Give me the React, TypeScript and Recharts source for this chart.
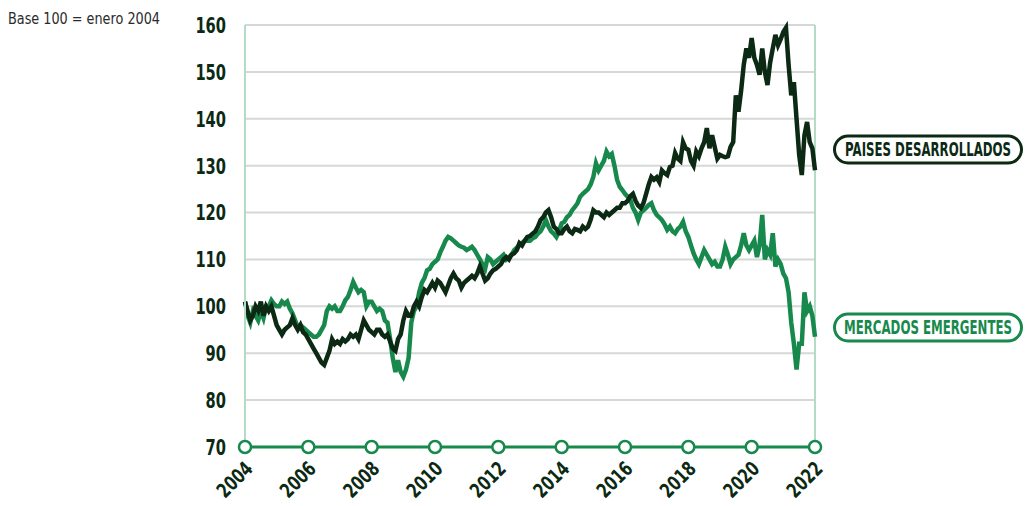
import { LineChart, Line, XAxis, YAxis, CartesianGrid, ReferenceLine } from "recharts";

// índices mensuales, base 100 = enero 2004 (ene 2004 .. ene 2022)
const anioInicio = 2004;

const desarrollados = [
  101, 99, 97, 98, 100, 99, 101, 98, 100, 99, 100, 98, // 2004
  96, 95, 94, 95, 95.5, 96, 97.5, 96, 95, 96, 94.5, 94, // 2005
  93, 92, 91, 90, 89, 88, 87.5, 89, 90.5, 93, 92, 92.5, // 2006
  92, 93, 92.5, 93, 94, 93.5, 94, 93, 95, 97, 96, 95, // 2007
  94.5, 94, 95, 95, 94, 93.5, 94, 92.5, 91, 90.5, 93, 94, // 2008
  97, 99, 98, 98, 100, 101, 100, 102, 103.5, 103, 104, 105, // 2009
  104, 105.5, 105, 104, 103, 104.5, 106, 107, 106, 105.5, 104, 105, // 2010
  105.5, 106, 106.5, 106, 107, 108.5, 107, 105.5, 106, 107, 107.7, 108, // 2011
  108.5, 109, 110, 110.5, 110, 111, 111.3, 112, 113.5, 113, 114, 114.8, // 2012
  115, 115.5, 116, 117, 118.4, 119, 120, 120.5, 119, 117, 116.5, 115.6, // 2013
  115.6, 116.5, 117, 116, 115.6, 116.5, 116.3, 116, 117, 116.5, 117, 118.5, // 2014
  120.5, 120, 120, 119.5, 119, 120, 119.5, 120, 120.5, 121, 121, 122, // 2015
  122, 122.5, 123.5, 124, 122.5, 121.5, 121, 122, 124, 126, 127.6, 127, // 2016
  127.5, 126.5, 129, 128.4, 128, 129.7, 130, 132.7, 131.5, 131, 135, 133.7, // 2017
  133.4, 131, 130, 133, 132, 133.7, 135, 138, 133.7, 136.5, 134, 131.5, // 2018
  132.3, 132, 131.8, 132, 134, 135, 145, 141.5, 146, 151.5, 155, 153, // 2019
  157.2, 153, 151.5, 149.4, 155, 150, 147.2, 152, 155, 157.9, 155.7, 157, // 2020
  158.5, 159.4, 151.5, 145, 147.8, 140, 132.3, 128, 136.5, 139.3, 135, 133.7, // 2021
  129, // 2022
];

const emergentes = [
  101, 98, 96.5, 99, 98, 97, 99, 97.5, 100, 100, 101.3, 100.5, // 2004
  100, 100, 101, 100.5, 101, 99.5, 98.5, 97, 95.5, 96, 95.5, 95, // 2005
  94.5, 94, 93.5, 93.5, 94, 95, 96, 99, 100, 99.5, 100, 99, // 2006
  99, 100, 101.3, 102, 103.5, 105.2, 104, 103, 103.5, 103, 100, 101, // 2007
  101, 100, 99, 99.5, 99, 97, 96.5, 93, 89, 86, 88.5, 86, // 2008
  85, 86.5, 89, 96.5, 99, 100, 103, 105, 106, 107.7, 108, 109, // 2009
  109.5, 110, 111.5, 112.7, 114, 114.8, 114.5, 114, 113.5, 113, 112.7, 112.5, // 2010
  112, 112.3, 112.7, 112, 111, 110, 109, 108, 110.5, 110, 109, 109.5, // 2011
  110, 110.5, 111, 110, 110.5, 111, 112, 112.5, 113, 113.5, 114, 114, // 2012
  114, 114.5, 114.8, 115.5, 116, 117, 118.4, 117, 116, 115.5, 114.8, 116, // 2013
  117.7, 118, 119, 119.5, 120.5, 121.2, 122, 123.4, 124, 124.5, 125, 126, // 2014
  127.6, 130.5, 129, 130, 131, 133, 132, 132.5, 130, 127, 125.5, 124.8, // 2015
  124, 123.4, 122.7, 121, 120, 118.4, 120, 120.5, 121, 121.6, 122, 120.5, // 2016
  119.5, 119, 118.4, 117.5, 116.3, 117, 116, 115.6, 116.5, 117, 118, 116, // 2017
  114.8, 113, 111.3, 110, 109, 110.5, 112, 111, 110, 109, 109.5, 108.5, // 2018
  108.5, 110, 112.7, 111, 109, 110, 110.5, 111, 113, 115.6, 113, 112, // 2019
  113, 114, 110.5, 113, 119.5, 110, 112, 111, 115.6, 108.5, 110, 109, // 2020
  107, 106, 103, 96.5, 92, 86.5, 92, 92, 103, 99, 100, 98, // 2021
  93.5, // 2022
];

const aniosTicks = [2004, 2006, 2008, 2010, 2012, 2014, 2016, 2018, 2020, 2022];
const yTicks = [70, 80, 90, 100, 110, 120, 130, 140, 150, 160];

const data = desarrollados.map((v, i) => ({
  t: anioInicio + i / 12,
  desarrollados: v,
  emergentes: emergentes[i],
}));

const OSCURO = "#0c2914";
const VERDE = "#17894c";
const FUENTE = "'DejaVu Sans', sans-serif";

// no hay fuente condensada: se comprime con textLength
function TickY(props: any) {
  const { x, y, payload } = props;
  const s = String(payload.value);
  return (
    <text
      x={x}
      y={y}
      dy="0.36em"
      textAnchor="end"
      fontFamily={FUENTE}
      fontWeight="bold"
      fontSize={22}
      fill={OSCURO}
      textLength={s.length * 10.2}
      lengthAdjust="spacingAndGlyphs"
    >
      {s}
    </text>
  );
}

function TickAnio(props: any) {
  const { x, y, payload } = props;
  return (
    <g>
      <circle cx={x} cy={y} r={6} fill="#fff" stroke={VERDE} strokeWidth={2.5} />
      <text
        x={0}
        y={0}
        transform={`translate(${x + 9},${y + 23}) rotate(-45)`}
        textAnchor="end"
        fontFamily={FUENTE}
        fontWeight="bold"
        fontSize={20}
        fill={OSCURO}
        textLength={41}
        lengthAdjust="spacingAndGlyphs"
      >
        {payload.value}
      </text>
    </g>
  );
}

function Etiqueta({ y, color, texto, largo }: { y: number; color: string; texto: string; largo: number }) {
  const k = 0.65;
  return (
    <g>
      <rect x={834.5} y={y} width={187} height={27} rx={13.5} fill="#fff" stroke={color} strokeWidth={3} />
      <text
        transform={`translate(928,${y + 20}) scale(${k},1)`}
        x={0}
        y={0}
        textAnchor="middle"
        fontFamily={FUENTE}
        fontWeight="bold"
        fontSize={19}
        fill={color}
        textLength={largo / k}
        lengthAdjust="spacingAndGlyphs"
      >
        {texto}
      </text>
    </g>
  );
}

export default function App() {
  return (
    <div style={{ position: "fixed", left: 0, top: 0, width: 1025, height: 506, background: "#fff" }}>
      <LineChart width={1025} height={506} data={data} margin={{ top: 25, right: 210, bottom: 9, left: 185 }}>
        <CartesianGrid vertical={false} stroke="#d4d8d6" strokeWidth={2} />
        <YAxis
          type="number"
          domain={[70, 160]}
          ticks={yTicks}
          width={60}
          tickLine={false}
          tickSize={6}
          tickMargin={13}
          axisLine={{ stroke: "#b4dcc5", strokeWidth: 2 }}
          tick={<TickY />}
        />
        <XAxis
          dataKey="t"
          type="number"
          domain={[2004, 2022]}
          ticks={aniosTicks}
          height={50}
          tickLine={false}
          tickSize={0}
          tickMargin={0}
          axisLine={false}
          tick={<TickAnio />}
        />
        <ReferenceLine x={2022} stroke="#b4dcc5" strokeWidth={2} />
        <ReferenceLine y={70} stroke={VERDE} strokeWidth={3} />
        <Line
          dataKey="emergentes"
          stroke={VERDE}
          strokeWidth={4.5}
          dot={false}
          isAnimationActive={false}
        />
        <Line
          dataKey="desarrollados"
          stroke={OSCURO}
          strokeWidth={4.5}
          dot={false}
          isAnimationActive={false}
        />
      </LineChart>

      <svg width={1025} height={506} style={{ position: "absolute", left: 0, top: 0, pointerEvents: "none" }}>
        <text
          x={8}
          y={24}
          fontFamily={FUENTE}
          fontSize={16}
          fill="#2b2b2b"
          textLength={152}
          lengthAdjust="spacingAndGlyphs"
        >
          Base 100 = enero 2004
        </text>
        <Etiqueta y={136} color={OSCURO} texto="PAISES DESARROLLADOS" largo={166} />
        <Etiqueta y={314} color={VERDE} texto="MERCADOS EMERGENTES" largo={168} />
      </svg>
    </div>
  );
}
